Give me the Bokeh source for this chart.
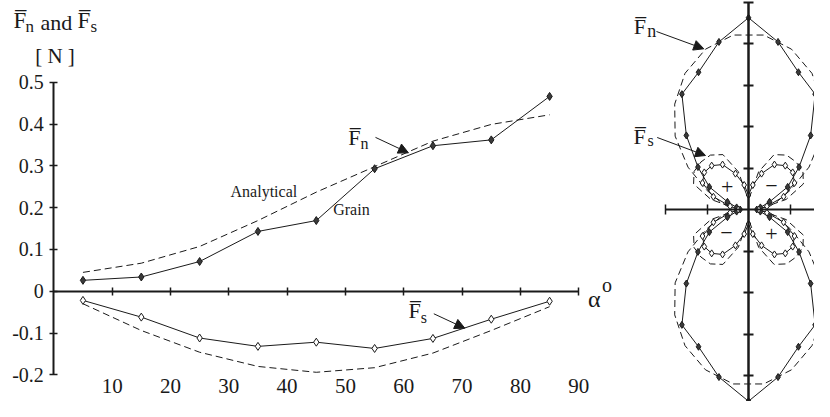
import numpy as np
from bokeh.plotting import figure
from bokeh.models import (Range1d, LinearAxis, FixedTicker, Label, Arrow,
                          NormalHead, ColumnDataSource)
from bokeh.embed import file_html
from bokeh.resources import INLINE

# ---------------- data (left chart) ----------------
alpha = [5, 15, 25, 35, 45, 55, 65, 75, 85]
fn_grain = [0.026, 0.034, 0.071, 0.143, 0.169, 0.293, 0.348, 0.362, 0.466]
fn_analytical = [0.045, 0.067, 0.107, 0.169, 0.237, 0.298, 0.359, 0.399, 0.422]
fs_grain = [-0.022, -0.062, -0.112, -0.132, -0.122, -0.137, -0.113, -0.067, -0.024]
fs_analytical = [-0.030, -0.094, -0.146, -0.180, -0.194, -0.183, -0.148, -0.094, -0.037]
x_ticks = [10, 20, 30, 40, 50, 60, 70, 80, 90]
y_ticks = [-0.2, -0.1, 0.0, 0.1, 0.2, 0.3, 0.4, 0.5]
y_tick_labels = ["-0.2", "-0.1", "0", "0.1", "0.2", "0.3", "0.4", "0.5"]

# ---------------- data (polar chart, one quadrant, mirrored) ----------------
polar_fn_angle = [0, 10, 20, 30, 40, 50, 60, 70, 80, 90]
polar_fn_grain = [0.020, 0.029, 0.054, 0.109, 0.159, 0.233, 0.321, 0.352, 0.410, 0.462]
polar_an_angle = [5, 15, 25, 35, 45, 55, 65, 75, 85]
polar_fn_analytical = [0.045, 0.070, 0.112, 0.178, 0.250, 0.310, 0.362, 0.400, 0.422]
polar_fs_angle = [0, 10, 20, 30, 40, 50, 60, 70, 80, 90]
polar_fs_grain = [0.025, 0.045, 0.090, 0.128, 0.139, 0.138, 0.125, 0.092, 0.060, 0.035]
polar_fsa_angle = [5, 15, 25, 35, 45, 55, 65, 75, 85]
polar_fs_analytical = [0.030, 0.094, 0.146, 0.160, 0.162, 0.160, 0.146, 0.094, 0.030]
polar_h_ticks = [-0.2, -0.1, 0.1, 0.2]
polar_v_ticks = [-0.5, -0.4, -0.3, -0.2, -0.1, 0.1, 0.2, 0.3, 0.4, 0.5]


def mirror(angles, radii):
    a = np.asarray(angles, float)
    r = np.asarray(radii, float)
    A = np.concatenate([a, 180 - a[::-1], 180 + a, 360 - a[::-1]])
    R = np.concatenate([r, r[::-1], r, r[::-1]])
    keep = np.r_[True, np.abs(np.diff(A)) > 1e-9]
    A, R = A[keep], R[keep]
    if abs(A[-1] - 360 - A[0]) < 1e-9:
        A, R = A[:-1], R[:-1]
    A = np.r_[A, A[0] + 360]
    R = np.r_[R, R[0]]
    t = np.deg2rad(A)
    return R * np.cos(t), R * np.sin(t)


# ---------------- canvas geometry ----------------
W, H = 814, 401
X0, SX = 53.3, 5.833      # left chart: pixel of alpha=0, px per degree
Y0, SY = 290.7, 418.0     # left chart: pixel of N=0 (from top), px per N
CX, CY, SP = 748.0, 209.0, 415.0   # polar centre and px per N

p = figure(width=W, height=H, output_backend="svg", toolbar_location=None,
           x_range=Range1d(-X0 / SX, (W - X0) / SX),
           y_range=Range1d(-(H - Y0) / SY, Y0 / SY),
           x_axis_type=None, y_axis_type=None, title=None, min_border=0)
p.outline_line_color = None
p.background_fill_color = "white"
p.extra_x_ranges = {"px": Range1d(-CX / SP, (W - CX) / SP)}
p.extra_y_ranges = {"py": Range1d(-(H - CY) / SP, CY / SP)}

FONT = "Liberation Serif"
INK = "#1a1a1a"

# ---------------- left chart axes ----------------
xa = LinearAxis(fixed_location=0, bounds=(0, 90), ticker=FixedTicker(ticks=x_ticks),
                major_label_overrides={t: "" for t in x_ticks},
                major_tick_in=4, major_tick_out=4, axis_line_width=2,
                major_tick_line_width=1.5, minor_tick_line_color=None,
                axis_line_color=INK, major_tick_line_color=INK)
p.add_layout(xa, "below")

xl = LinearAxis(fixed_location=-0.1945, ticker=FixedTicker(ticks=x_ticks),
                axis_line_color=None, major_tick_line_color=None,
                minor_tick_line_color=None, major_label_standoff=0,
                major_label_text_font=FONT, major_label_text_font_size="21px",
                major_label_text_color=INK)
p.add_layout(xl, "below")

ya = LinearAxis(fixed_location=0, bounds=(-0.2, 0.5), ticker=FixedTicker(ticks=y_ticks),
                major_label_overrides={t: l for t, l in zip(y_ticks, y_tick_labels)},
                major_tick_in=4, major_tick_out=4, axis_line_width=2,
                major_tick_line_width=1.5, minor_tick_line_color=None,
                axis_line_color=INK, major_tick_line_color=INK,
                major_label_standoff=6, major_label_text_font=FONT,
                major_label_text_font_size="20px", major_label_text_color=INK)
p.add_layout(ya, "left")

# ---------------- polar axes ----------------
pha = LinearAxis(x_range_name="px", y_range_name="py", fixed_location=0,
                 bounds=(-0.2, 0.2), ticker=FixedTicker(ticks=polar_h_ticks),
                 major_label_overrides={t: "" for t in polar_h_ticks},
                 major_tick_in=5, major_tick_out=5, axis_line_width=2,
                 major_tick_line_width=1.5, minor_tick_line_color=None,
                 axis_line_color=INK, major_tick_line_color=INK)
p.add_layout(pha, "below")
pva = LinearAxis(x_range_name="px", y_range_name="py", fixed_location=0,
                 bounds=(-0.5, 0.5), ticker=FixedTicker(ticks=polar_v_ticks),
                 major_label_overrides={t: "" for t in polar_v_ticks},
                 major_tick_in=5, major_tick_out=5, axis_line_width=2.5,
                 major_tick_line_width=2, minor_tick_line_color=None,
                 axis_line_color=INK, major_tick_line_color=INK)
p.add_layout(pva, "left")

# ---------------- left chart series ----------------
src = ColumnDataSource(dict(a=alpha, fng=fn_grain, fna=fn_analytical,
                            fsg=fs_grain, fsa=fs_analytical))
p.line("a", "fna", source=src, line_color=INK, line_width=1, line_dash="7 4")
p.line("a", "fsa", source=src, line_color=INK, line_width=1, line_dash="7 4")
p.line("a", "fng", source=src, line_color=INK, line_width=1)
p.line("a", "fsg", source=src, line_color=INK, line_width=1)
p.scatter("a", "fng", source=src, marker="diamond", size=8,
          fill_color="#3a3a3a", line_color=INK, line_width=1)
p.scatter("a", "fsg", source=src, marker="diamond", size=8,
          fill_color="white", line_color=INK, line_width=1)

# ---------------- polar series ----------------
fnx, fny = mirror(polar_fn_angle, polar_fn_grain)
fax, fay = mirror(polar_an_angle, polar_fn_analytical)
fsx, fsy = mirror(polar_fs_angle, polar_fs_grain)
fsax, fsay = mirror(polar_fsa_angle, polar_fs_analytical)
kw = dict(x_range_name="px", y_range_name="py")
p.line(fax, fay, line_color=INK, line_width=1, line_dash="7 4", **kw)
p.line(fsax, fsay, line_color=INK, line_width=1, line_dash="7 4", **kw)
p.line(fnx, fny, line_color=INK, line_width=1, **kw)
p.line(fsx, fsy, line_color=INK, line_width=1, **kw)
p.scatter(fnx[:-1], fny[:-1], marker="diamond", size=7, fill_color="#3a3a3a",
          line_color=INK, line_width=1, **kw)
p.scatter(fsx[:-1], fsy[:-1], marker="diamond", size=7, fill_color="white",
          line_color=INK, line_width=1, **kw)


# ---------------- annotations ----------------
def lab(x, y, text, size, align="left", baseline="middle", **extra):
    p.add_layout(Label(x=x, y=y, text=text, text_font=FONT, text_font_size=size,
                       text_align=align, text_baseline=baseline, text_color=INK,
                       **extra))


OB = "\u0305"
# axis title
lab(-6.9, 0.647, "F" + OB, "23px")
lab(-4.85, 0.633, "n", "17px")
lab(-2.3, 0.643, "and", "22px")
lab(4.05, 0.647, "F" + OB, "23px")
lab(6.3, 0.633, "s", "17px")
lab(-3.2, 0.562, "[ N ]", "21px")
# curve labels
lab(30.3, 0.2385, "Analytical", "16px")
lab(47.9, 0.1955, "Grain", "16px")
lab(50.5, 0.368, "F" + OB, "22px")
lab(52.6, 0.353, "n", "16px")
lab(60.8, -0.046, "F" + OB, "22px")
lab(62.9, -0.063, "s", "16px")
lab(91.6, -0.018, "\u03b1", "24px")
lab(94.0, 0.016, "o", "20px")

head = dict(size=10, fill_color=INK, line_color=INK, line_width=1)
p.add_layout(Arrow(end=NormalHead(**head), x_start=55.15, y_start=0.368,
                   x_end=60.8, y_end=0.331, line_color=INK, line_width=1))
p.add_layout(Arrow(end=NormalHead(**head), x_start=65.15, y_start=-0.054,
                   x_end=70.46, y_end=-0.0885, line_color=INK, line_width=1))

# polar labels
plab = dict(x_range_name="px", y_range_name="py")
lab(-0.2765, 0.441, "F" + OB, "22px", **plab)
lab(-0.244, 0.429, "n", "18px", **plab)
lab(-0.277, 0.176, "F" + OB, "22px", **plab)
lab(-0.2435, 0.166, "s", "16px", **plab)
lab(-0.0513, 0.0554, "+", "22px", align="center", **plab)
lab(0.0554, 0.0578, "\u2212", "22px", align="center", **plab)
lab(-0.053, -0.0571, "\u2212", "22px", align="center", **plab)
lab(0.0554, -0.0586, "+", "22px", align="center", **plab)
p.add_layout(Arrow(end=NormalHead(**head), x_start=-0.2217, y_start=0.4289,
                   x_end=-0.1077, y_end=0.3872, line_color=INK, line_width=1, **plab))
p.add_layout(Arrow(end=NormalHead(**head), x_start=-0.22, y_start=0.1735,
                   x_end=-0.1036, y_end=0.1301, line_color=INK, line_width=1, **plab))

open("out.html", "w").write(file_html(p, INLINE))
